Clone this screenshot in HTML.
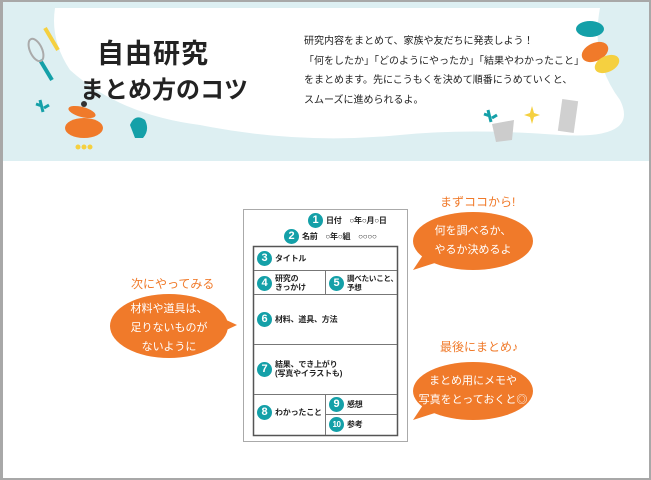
<!DOCTYPE html>
<html><head><meta charset="utf-8"><style>
*{margin:0;padding:0;box-sizing:border-box}
body{width:651px;height:480px;position:relative;overflow:hidden;background:#fff;font-family:"Liberation Sans","Noto Sans CJK JP",sans-serif;color:#222}
.a{position:absolute;white-space:nowrap}
.frame{position:absolute;left:0;top:0;width:651px;height:480px;border:2px solid #a8a8a8;border-left-width:3px;pointer-events:none}
.n{display:inline-block;width:15px;height:15px;border-radius:50%;background:#14a0a8;color:#fff;font-size:11px;font-weight:bold;text-align:center;line-height:15px;vertical-align:middle;margin-right:3px;flex:none}
.c{position:absolute;font-size:8px;font-weight:bold;display:flex;align-items:center;letter-spacing:-0.2px}
.bt{position:absolute;color:#fff;font-size:11px;text-align:center;line-height:19px;white-space:nowrap}
.lb{position:absolute;color:#f07a2a;font-size:12px;white-space:nowrap}
</style></head><body>
<svg class="a" style="left:0;top:0" width="651" height="480">
<rect x="0" y="0" width="651" height="161" fill="#ddeff2"/>
<path d="M55 8 L600 8 Q590 60 620 100 Q640 140 560 135 Q470 128 400 135 Q300 145 200 125 Q120 115 70 70 Q50 40 55 8Z" fill="#fff"/>
<line x1="45" y1="28" x2="58" y2="50" stroke="#f5d040" stroke-width="4"/>
<line x1="40" y1="60" x2="52" y2="80" stroke="#14a0a8" stroke-width="4"/>
<ellipse cx="36" cy="50" rx="6" ry="12" fill="none" stroke="#aaa" stroke-width="2" transform="rotate(-25 36 50)"/>
<ellipse cx="82" cy="112" rx="14" ry="5" fill="#f07a2a" transform="rotate(15 82 112)"/>
<circle cx="84" cy="104" r="3" fill="#333"/>
<ellipse cx="84" cy="128" rx="19" ry="10" fill="#f07a2a"/>
<circle cx="78" cy="147" r="2.5" fill="#f5d040"/><circle cx="84" cy="147" r="2.5" fill="#f5d040"/><circle cx="90" cy="147" r="2.5" fill="#f5d040"/>
<path d="M130 125 q5 -12 15 -5 q5 10 -2 18 l-8 0 z" fill="#14a0a8"/>
<path d="M40 100 l3 12 M36 104 l6 2 M44 108 l5 -3" stroke="#14a0a8" stroke-width="3"/>
<path d="M488 110 l3 12 M484 114 l6 2 M492 118 l5 -3" stroke="#14a0a8" stroke-width="3"/>
<ellipse cx="590" cy="29" rx="14" ry="8" fill="#14a0a8"/>
<ellipse cx="595" cy="52" rx="14" ry="9" fill="#f07a2a" transform="rotate(-25 595 52)"/>
<ellipse cx="607" cy="64" rx="13" ry="8" fill="#f5d040" transform="rotate(-25 607 64)"/>
<path d="M492 124 l22 -4 l-2 20 l-16 2 z" fill="#ccc"/>
<rect x="560" y="100" width="16" height="32" fill="#d0d0d0" transform="rotate(8 568 116)"/>
<path d="M532 106 l2 7 l6 2 l-6 2 l-2 7 l-2 -7 l-6 -2 l6 -2z" fill="#f5d040"/>
<path d="M237 325 L222 318 L220 333 Z" fill="#f07a2a"/>
<ellipse cx="169" cy="326" rx="59" ry="32" fill="#f07a2a"/>
<path d="M413 270 L425 252 L438 262 Z" fill="#f07a2a"/>
<ellipse cx="473" cy="241" rx="60" ry="29" fill="#f07a2a"/>
<path d="M413 420 L425 402 L438 412 Z" fill="#f07a2a"/>
<ellipse cx="473" cy="391" rx="60" ry="29" fill="#f07a2a"/>
<rect x="243.5" y="209.5" width="164" height="232" fill="#fff" stroke="#aaa"/>
<rect x="253.5" y="246.5" width="144" height="189" fill="none" stroke="#555" stroke-width="1.5"/>
<g stroke="#777" stroke-width="1">
<line x1="254" y1="270.5" x2="397" y2="270.5"/>
<line x1="254" y1="294.5" x2="397" y2="294.5"/>
<line x1="254" y1="344.5" x2="397" y2="344.5"/>
<line x1="254" y1="394.5" x2="397" y2="394.5"/>
<line x1="325.5" y1="271" x2="325.5" y2="294"/>
<line x1="325.5" y1="395" x2="325.5" y2="435"/>
<line x1="326" y1="414.5" x2="397" y2="414.5"/>
</g>
</svg>
<div class="a" style="left:97px;top:32px;font-size:27px;font-weight:bold;letter-spacing:1px">自由研究</div>
<div class="a" style="left:80px;top:70px;font-size:24px;font-weight:bold">まとめ方のコツ</div>
<div class="a" style="left:304px;top:32px;font-size:10px;line-height:19.7px">研究内容をまとめて、家族や友だちに発表しよう！<br>「何をしたか」「どのようにやったか」「結果やわかったこと」<br>をまとめます。先にこうもくを決めて順番にうめていくと、<br>スムーズに進められるよ。</div>
<div class="c" style="left:308px;top:213px"><span class="n">1</span>日付　○年○月○日</div>
<div class="c" style="left:284px;top:229px"><span class="n">2</span>名前　○年○組　○○○○</div>
<div class="c" style="left:257px;top:251px"><span class="n">3</span>タイトル</div>
<div class="c" style="left:257px;top:274px;line-height:9px"><span class="n">4</span>研究の<br>きっかけ</div>
<div class="c" style="left:329px;top:274px;line-height:9px;font-size:7.5px"><span class="n">5</span>調べたいこと、<br>予想</div>
<div class="c" style="left:257px;top:312px"><span class="n">6</span>材料、道具、方法</div>
<div class="c" style="left:257px;top:360px;line-height:9px"><span class="n">7</span>結果、でき上がり<br>(写真やイラストも)</div>
<div class="c" style="left:257px;top:405px"><span class="n">8</span>わかったこと</div>
<div class="c" style="left:329px;top:397px"><span class="n">9</span>感想</div>
<div class="c" style="left:329px;top:417px"><span class="n" style="font-size:8px;letter-spacing:-0.5px">10</span>参考</div>
<div class="lb" style="left:131px;top:275px">次にやってみる</div>
<div class="bt" style="left:110px;top:300px;width:118px">材料や道具は、<br>足りないものが<br>ないように</div>
<div class="lb" style="left:440px;top:193px">まずココから!</div>
<div class="bt" style="left:413px;top:222px;width:120px">何を調べるか、<br>やるか決めるよ</div>
<div class="lb" style="left:440px;top:338px">最後にまとめ♪</div>
<div class="bt" style="left:413px;top:372px;width:120px">まとめ用にメモや<br>写真をとっておくと◎</div>
<div class="frame"></div>
</body></html>
